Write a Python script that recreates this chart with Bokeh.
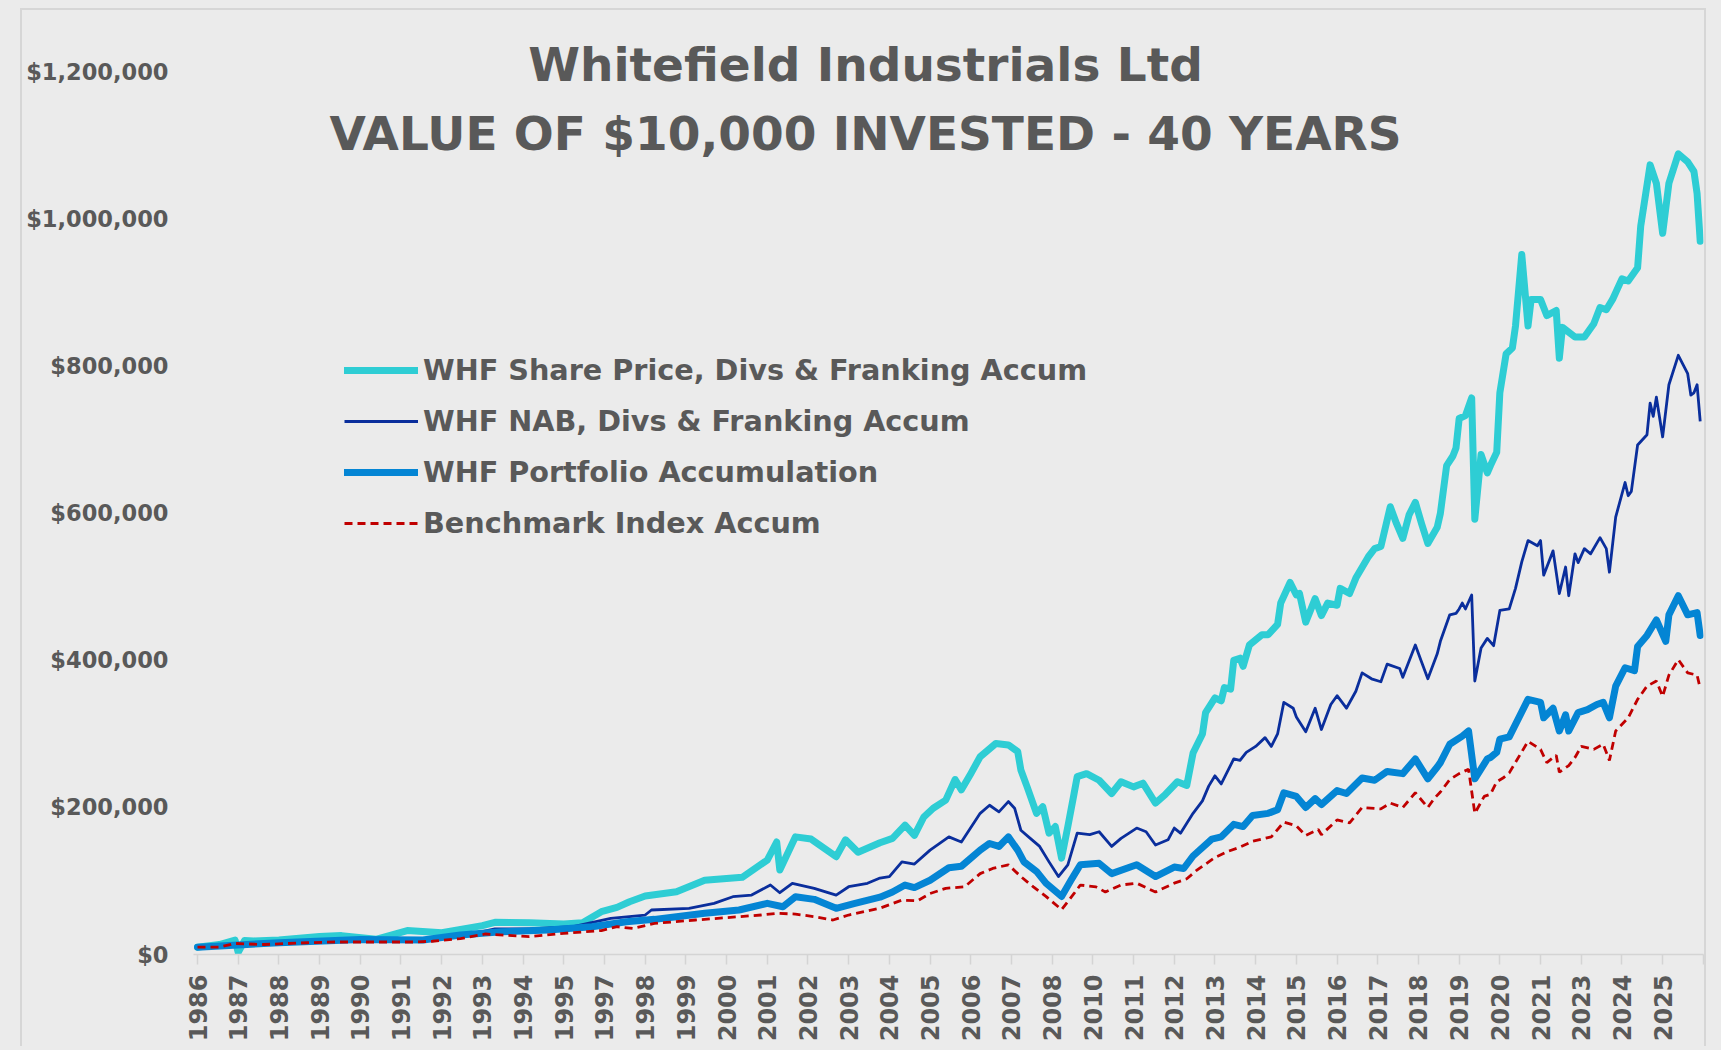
from math import pi
from bokeh.plotting import figure
from bokeh.models import (Range1d, FixedTicker, NumeralTickFormatter, Label,
                          Legend, LegendItem)
from bokeh.embed import file_html
from bokeh.resources import INLINE

# ---------------- data (month index from start of series, values in $000) ----------------
tick_labels = ["1986", "1987", "1988", "1989", "1990", "1991", "1992", "1993", "1994", "1995",
               "1997", "1998", "1999", "2000", "2001", "2002", "2003", "2004", "2005", "2006",
               "2007", "2008", "2010", "2011", "2012", "2013", "2014", "2015", "2016", "2017",
               "2018", "2019", "2020", "2021", "2023", "2024", "2025"]
months_per_tick = 13

y_ticks = [0, 200000, 400000, 600000, 800000, 1000000, 1200000]

share_m = [0, 7, 12, 13, 15, 18, 26, 39, 46, 57,
           67, 78, 91, 95, 106, 117, 123, 129, 134, 138,
           143, 153, 162, 168, 174, 182, 185, 186, 191, 196,
           204, 207, 211, 218, 222, 226, 229, 232, 235, 239,
           242, 244, 247, 250, 255, 259, 262, 263, 265, 268,
           270, 272, 274, 276, 278, 280, 281, 284, 288, 292,
           295, 299, 302, 306, 309, 313, 316, 318, 321, 322,
           325, 327, 328, 330, 331, 333, 334, 336, 340, 342,
           345, 346, 349, 351, 352, 354, 357, 359, 361, 364,
           365, 368, 370, 374, 376, 378, 381, 383, 385, 387,
           389, 391, 393, 396, 397, 399, 401, 402, 403, 405,
           407, 408, 410, 412, 413, 415, 416, 418, 420, 421,
           423, 425, 426, 429, 431, 434, 435, 436, 440, 443,
           446, 448, 450, 452, 455, 457, 460, 461, 464, 466,
           468, 470, 473, 476, 478, 479, 480]
share_v = [10, 13.5, 19.5, 3, 19, 18.5, 19.8, 24.4, 25.7, 20.7,
           32.5, 29.7, 39.3, 43.8, 43.3, 41.5, 43.3, 58.2, 64.1, 71.8,
           79.5, 85.4, 101, 103, 105, 128.5, 153, 115, 160, 157,
           133, 156, 139, 152, 158, 176, 162, 187, 199, 210,
           238, 224, 246, 269, 287, 285, 276, 251, 228, 192,
           201, 165, 174, 131, 174, 219, 242, 246, 237, 219,
           235, 228, 233, 206, 217, 235, 230, 274, 300, 329,
           349, 345, 363, 361, 400, 403, 392, 421, 435, 435,
           449, 478, 506, 489, 491, 452, 484, 461, 478, 475,
           498, 491, 512, 541, 552, 555, 609, 586, 566, 598,
           615, 586, 559, 581, 600, 665, 678, 689, 729, 733,
           757, 592, 680, 655, 665, 683, 764, 817, 825, 855,
           952, 855, 891, 891, 869, 876, 811, 853, 840, 840,
           858, 880, 877, 891, 919, 916, 934, 991, 1074, 1049,
           981, 1049, 1089, 1078, 1065, 1035, 970]

nab_m = [0, 26, 52, 72, 91, 95, 106, 120, 132, 143,
         145, 157, 165, 171, 177, 183, 186, 190, 197, 204,
         208, 214, 218, 221, 225, 229, 234, 240, 244, 250,
         253, 256, 259, 261, 263, 266, 269, 272, 275, 278,
         281, 285, 288, 292, 295, 300, 303, 306, 310, 312,
         314, 318, 321, 323, 325, 327, 331, 333, 335, 338,
         341, 343, 345, 347, 350, 351, 354, 357, 359, 362,
         364, 367, 370, 372, 375, 378, 380, 384, 385, 389,
         391, 393, 396, 397, 400, 402, 403, 404, 405, 407,
         408, 410, 412, 414, 416, 419, 421, 423, 425, 428,
         429, 430, 433, 435, 437, 438, 440, 441, 443, 445,
         448, 450, 451, 453, 456, 457, 458, 460, 463, 464,
         465, 466, 468, 470, 473, 476, 477, 478, 479, 480]
nab_v = [10, 14.3, 19.7, 19, 31, 34.7, 34.7, 37.8, 49, 53.7,
         60.5, 62.8, 69.6, 78.6, 80.8, 94.5, 84, 96.8, 90, 80.8,
         92.2, 96.8, 104, 106, 126, 123, 142, 160, 153, 192,
         203, 194, 208, 199, 169, 158, 147, 126, 106, 122,
         165, 163, 167, 147, 158, 172, 167, 149, 156, 172,
         165, 192, 209, 229, 243, 232, 266, 264, 275, 283,
         295, 283, 300, 343, 335, 323, 303, 335, 306, 340,
         352, 335, 358, 383, 375, 371, 395, 389, 377, 421,
         398, 375, 409, 426, 462, 464, 470, 478, 470, 489,
         372, 417, 430, 420, 468, 470, 498, 534, 563, 556,
         563, 516, 549, 491, 527, 488, 545, 533, 552, 545,
         567, 552, 520, 595, 642, 624, 630, 693, 707, 750,
         732, 758, 704, 775, 815, 790, 761, 764, 775, 725]

port_m = [0, 26, 52, 72, 84, 97, 112, 126, 137, 146,
          153, 162, 173, 182, 187, 191, 197, 204, 210, 218,
          222, 226, 229, 234, 240, 244, 250, 253, 256, 259,
          262, 264, 268, 271, 276, 279, 282, 288, 292, 300,
          306, 312, 315, 318, 324, 327, 331, 334, 337, 342,
          345, 347, 351, 354, 357, 359, 364, 367, 372, 376,
          380, 385, 389, 393, 396, 397, 400, 404, 406, 408,
          412, 413, 415, 416, 419, 425, 429, 430, 433, 435,
          437, 438, 441, 444, 447, 449, 451, 453, 456, 459,
          460, 463, 466, 469, 470, 473, 476, 479, 480]
port_v = [10, 16, 20.4, 19.7, 26.5, 30.8, 33.3, 37.8, 44.6, 47.8,
          51.4, 56, 60.5, 69.6, 65, 78.6, 75, 62.8, 69.6, 78,
          85, 94.5, 91, 101, 118, 120, 142, 151, 147, 160,
          142, 126, 113, 97, 79, 101, 122, 124, 110, 122,
          106, 119, 117, 134, 157, 160, 177, 174, 189, 192,
          197, 220, 215, 200, 212, 204, 223, 219, 240, 237,
          249, 246, 266, 239, 255, 261, 286, 297, 304, 239,
          266, 268, 275, 293, 296, 347, 343, 322, 335, 304,
          326, 304, 329, 333, 340, 343, 322, 365, 390, 386,
          419, 434, 455, 426, 462, 488, 462, 465, 434]

bench_m = [0, 7, 12, 21, 35, 44, 69, 75, 84, 92,
           106, 117, 129, 134, 139, 146, 159, 173, 180, 185,
           191, 197, 203, 208, 218, 225, 230, 234, 239, 245,
           250, 254, 259, 263, 267, 271, 276, 280, 282, 287,
           290, 295, 300, 306, 312, 316, 319, 325, 329, 333,
           337, 343, 347, 351, 354, 358, 359, 364, 368, 372,
           378, 381, 385, 389, 393, 395, 397, 400, 403, 406,
           408, 411, 413, 415, 417, 419, 425, 429, 431, 434,
           435, 438, 440, 442, 446, 449, 451, 453, 457, 460,
           463, 466, 468, 470, 473, 476, 479, 480]
bench_v = [10, 10, 15, 13.6, 16, 17, 17, 18, 21.7, 27.9,
           24.3, 28.8, 32.6, 37.8, 35.5, 42.3, 46.9, 51.4, 53.7, 56,
           55, 51.4, 46.9, 53.7, 63, 74, 73, 83, 90, 92,
           110, 117, 122, 106, 92, 79, 61, 83, 94.5, 92,
           85, 94.5, 97, 85, 97, 103, 114, 132, 140, 146,
           154, 160, 180, 175, 162, 170, 163, 183, 179, 200,
           198, 206, 200, 220, 200, 212, 221, 238, 246, 252,
           192, 215, 218, 235, 240, 247, 290, 279, 261, 271,
           248, 257, 268, 283, 279, 286, 264, 304, 322, 347,
           365, 372, 351, 380, 401, 383, 380, 362]

series_names = ["WHF Share Price, Divs & Franking Accum",
                "WHF NAB, Divs & Franking Accum",
                "WHF Portfolio Accumulation",
                "Benchmark Index Accum"]
title_lines = ["Whitefield Industrials Ltd", "VALUE OF $10,000 INVESTED - 40 YEARS"]

# ---------------- styling ----------------
BG = "#EBEBEB"
TXT = "#595959"
AXIS = "#D4D4D4"
FONT = "DejaVu Sans"
C_SHARE = "#2ECDD4"
C_NAB = "#0A2E9C"
C_PORT = "#0485D4"
C_BENCH = "#C00000"

n_ticks = len(tick_labels)
tick_pos = [months_per_tick * k for k in range(n_ticks + 1)]
overrides = {t: (tick_labels[k] if k < n_ticks else "") for k, t in enumerate(tick_pos)}

p = figure(width=1686, height=1038,
           x_range=Range1d(-1.28, 481.05), y_range=Range1d(0, 1284000),
           output_backend="svg", toolbar_location=None,
           min_border_left=171, min_border_right=5, min_border_top=0, min_border_bottom=94,
           background_fill_color=BG, border_fill_color=BG, outline_line_color=None,
           margin=(8, 0, 0, 20))
p.styles = {"border-top": "2px solid #D6D6D6", "border-left": "2px solid #D6D6D6",
            "border-right": "2px solid #D6D6D6"}
p.xgrid.visible = False
p.ygrid.visible = False

xa = p.xaxis[0]
xa.ticker = FixedTicker(ticks=tick_pos)
xa.major_label_overrides = overrides
xa.major_label_orientation = pi / 2
xa.axis_line_color = AXIS
xa.axis_line_width = 1.5
xa.major_tick_line_color = AXIS
xa.major_tick_line_width = 1.5
xa.major_tick_out = 10
xa.major_tick_in = 0
xa.minor_tick_out = 0
xa.minor_tick_in = 0
xa.major_label_standoff = 10
xa.major_label_text_font = FONT
xa.major_label_text_font_style = "bold"
xa.major_label_text_font_size = "24px"
xa.major_label_text_color = TXT

ya = p.yaxis[0]
ya.ticker = FixedTicker(ticks=y_ticks)
ya.formatter = NumeralTickFormatter(format="$0,0")
ya.axis_line_color = None
ya.major_tick_line_color = None
ya.minor_tick_line_color = None
ya.major_tick_out = 0
ya.major_tick_in = 0
ya.minor_tick_out = 0
ya.minor_tick_in = 0
ya.major_label_standoff = 25
ya.major_label_text_font = FONT
ya.major_label_text_font_style = "bold"
ya.major_label_text_font_size = "22.5px"
ya.major_label_text_color = TXT

def dollars(vals):
    return [v * 1000 for v in vals]

r_share = p.line(share_m, dollars(share_v), line_color=C_SHARE, line_width=7,
                 line_join="round", line_cap="round")
r_nab = p.line(nab_m, dollars(nab_v), line_color=C_NAB, line_width=2.8,
               line_join="round")
r_port = p.line(port_m, dollars(port_v), line_color=C_PORT, line_width=7,
                line_join="round", line_cap="round")
r_bench = p.line(bench_m, dollars(bench_v), line_color=C_BENCH, line_width=2.8,
                 line_dash="8 5")

legend = Legend(items=[LegendItem(label=series_names[0], renderers=[r_share]),
                       LegendItem(label=series_names[1], renderers=[r_nab]),
                       LegendItem(label=series_names[2], renderers=[r_port]),
                       LegendItem(label=series_names[3], renderers=[r_bench])],
                location=(151, 411), orientation="vertical",
                glyph_width=74, glyph_height=40, label_height=40, spacing=11,
                label_standoff=5, padding=0, margin=0,
                border_line_color=None, background_fill_alpha=0,
                label_text_font=FONT, label_text_font_style="bold",
                label_text_font_size="28.7px", label_text_color=TXT)
p.add_layout(legend)

for txt, yy in zip(title_lines, [890, 821]):
    p.add_layout(Label(x=672, y=yy, x_units="screen", y_units="screen", text=txt,
                       text_align="center", text_baseline="middle",
                       text_font=FONT, text_font_style="bold",
                       text_font_size="47px", text_color=TXT))

html = file_html(p, INLINE)
html = html.replace("</head>",
                    "<style>html, body { background-color: #EBEBEB !important; }</style></head>", 1)
open("out.html", "w").write(html)
